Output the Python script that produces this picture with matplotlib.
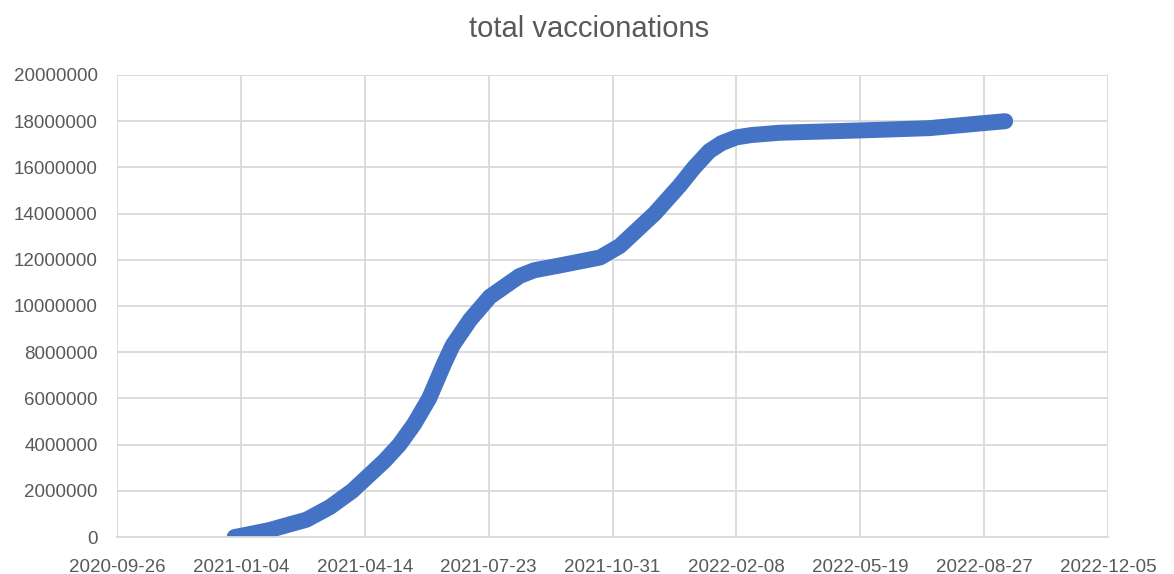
import numpy as np
import pandas as pd
import matplotlib
matplotlib.use("Agg")
import matplotlib.pyplot as plt
import matplotlib.dates as mdates

# values (millions of doses)
dates = ["2020-12-30", "2021-01-04", "2021-01-27", "2021-02-26", "2021-03-17",
         "2021-04-04", "2021-04-30", "2021-05-12", "2021-05-24", "2021-06-05",
         "2021-06-17", "2021-06-24", "2021-07-08", "2021-07-24", "2021-08-17",
         "2021-08-29", "2021-09-18", "2021-10-21", "2021-11-06", "2021-12-04",
         "2021-12-24", "2022-01-05", "2022-01-17", "2022-01-27", "2022-02-08",
         "2022-02-20", "2022-03-15", "2022-05-19", "2022-07-14", "2022-08-23",
         "2022-09-13"]
total_m = [0.0, 0.05, 0.3, 0.75, 1.3,
           2.0, 3.3, 4.0, 4.9, 6.0,
           7.5, 8.3, 9.4, 10.4, 11.3,
           11.55, 11.75, 12.1, 12.6, 14.0,
           15.2, 16.0, 16.7, 17.05, 17.3,
           17.4, 17.5, 17.6, 17.7, 17.9,
           18.0]

tick_dates = ["2020-09-26", "2021-01-04", "2021-04-14", "2021-07-23", "2021-10-31",
              "2022-02-08", "2022-05-19", "2022-08-27", "2022-12-05"]

x = pd.to_datetime(dates)
y = np.array(total_m) * 1e6
ticks = pd.to_datetime(tick_dates)

plt.rcParams['font.family'] = ['Liberation Sans', 'DejaVu Sans']

fig = plt.figure(figsize=(11.74, 5.74), dpi=100)
ax = fig.add_axes([117/1174, 1-537/574, (1108-117)/1174, (537-75)/574])

ax.plot(x, y, color='#4472C4', lw=11.5, solid_capstyle='round', solid_joinstyle='round')

ax.set_xlim(ticks[0], ticks[-1])
ax.set_ylim(0, 20000000)
ax.set_xticks(ticks)
ax.xaxis.set_major_formatter(mdates.DateFormatter('%Y-%m-%d'))
ax.set_yticks(np.arange(0, 20000001, 2000000))
ax.yaxis.set_major_formatter(plt.FuncFormatter(lambda v, p: f"{int(v)}"))

ax.grid(True, color='#d9d9d9', lw=1.3)
ax.set_axisbelow(True)
for s in ['top', 'right', 'left']:
    ax.spines[s].set_visible(False)
ax.spines['bottom'].set_color('#d9d9d9')
ax.spines['bottom'].set_linewidth(1.3)
ax.tick_params(length=0, labelsize=13.5, colors='#595959')
ax.tick_params(axis='y', pad=14)
ax.tick_params(axis='x', pad=16)

fig.text(0.502, 1-29/574, "total vaccionations", ha='center', va='center',
         fontsize=21, color='#595959')

fig.savefig("out.png", dpi=100)
